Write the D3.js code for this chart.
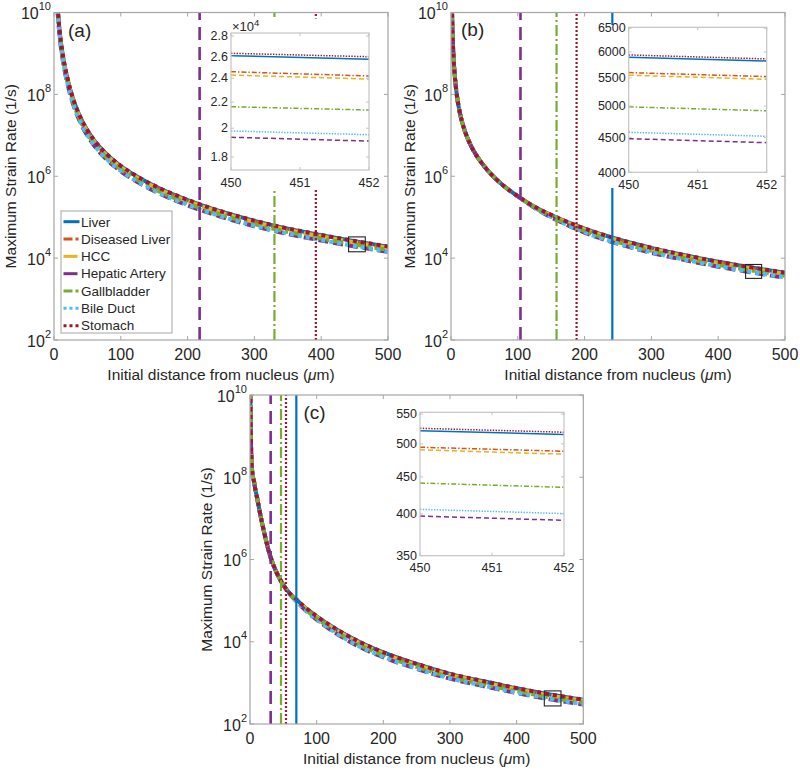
<!DOCTYPE html>
<html><head><meta charset="utf-8">
<script src="https://cdn.jsdelivr.net/npm/d3@7"></script>
<style>
body{margin:0;background:#fff}
svg{display:block}
text{font-family:"Liberation Sans", Arial, Helvetica, sans-serif; fill:#262626}
</style>
</head><body>
<svg id="chart" width="800" height="770"></svg>
<script>
// ---------------- DATA ----------------
const seriesNames = ["Liver","Diseased Liver","HCC","Hepatic Artery","Gallbladder","Bile Duct","Stomach"];
const xTicks = [0,100,200,300,400,500];
const yTicks = [1e2,1e4,1e6,1e8,1e10];
const yTickExp = ["2","4","6","8","10"];
const insetXTicks = [450,451,452];
const insetX = [450,452];

// Panel (a): initial distance (um) and log10(max strain rate) per series
const distA = [4,5,6,8,10,13,16,20,25,30,40,50,60,80,100,130,160,200,250,300,350,400,450,500];
const liverA    = [10.55,10.25,10.0,9.62,9.32,8.98,8.70,8.40,8.08,7.82,7.42,7.12,6.88,6.52,6.25,5.94,5.69,5.42,5.14,4.91,4.72,4.56,4.415,4.28];
const diseasedA = [10.525,10.225,9.975,9.595,9.295,8.955,8.675,8.375,8.055,7.795,7.395,7.095,6.855,6.495,6.225,5.915,5.665,5.395,5.115,4.885,4.695,4.535,4.39,4.255];
const hccA      = [10.52,10.22,9.97,9.59,9.29,8.95,8.67,8.37,8.05,7.79,7.39,7.09,6.85,6.49,6.22,5.91,5.66,5.39,5.11,4.88,4.69,4.53,4.385,4.25];
const hepaticA  = [10.42,10.12,9.87,9.49,9.19,8.85,8.57,8.27,7.95,7.69,7.29,6.99,6.75,6.39,6.12,5.81,5.56,5.29,5.01,4.78,4.59,4.43,4.285,4.15];
const gallA     = [10.47,10.17,9.92,9.54,9.24,8.90,8.62,8.32,8.00,7.74,7.34,7.04,6.80,6.44,6.17,5.86,5.61,5.34,5.06,4.83,4.64,4.48,4.335,4.20];
const bileA     = [10.43,10.13,9.88,9.50,9.20,8.86,8.58,8.28,7.96,7.70,7.30,7.00,6.76,6.40,6.13,5.82,5.57,5.30,5.02,4.79,4.60,4.44,4.295,4.16];
const stomachA  = [10.555,10.255,10.005,9.625,9.325,8.985,8.705,8.405,8.085,7.825,7.425,7.125,6.885,6.525,6.255,5.945,5.695,5.425,5.145,4.915,4.725,4.565,4.42,4.285];
const insetValsA = [[26060,25720],[24580,24200],[24280,23930],[19350,19080],[21630,21370],[19800,19530],[26290,25960]];
const insetYTicksA = [18000,20000,22000,24000,26000,28000];
const insetYLabelsA = ["1.8","2","2.2","2.4","2.6","2.8"];
const insetYDomainA = [17170,28310];
const vlineSeriesA = [3,4,6];
const vlineDistA = [218,330,392];
const zoomBoxXA = [441,466];
const zoomBoxYA = [14300,33000];

// Panel (b)
const distB = [1,1.5,2,3,4,5,6,8,10,13,16,20,25,30,40,50,60,80,100,130,160,200,250,300,350,400,450,500];
const liverB    = [10.56,10.03,9.67,9.18,8.84,8.59,8.39,8.08,7.84,7.57,7.36,7.14,6.92,6.74,6.46,6.24,6.05,5.75,5.51,5.21,4.98,4.72,4.46,4.25,4.07,3.91,3.77,3.64];
const diseasedB = [10.56,10.03,9.67,9.18,8.84,8.59,8.39,8.08,7.84,7.57,7.36,7.14,6.92,6.74,6.46,6.24,6.05,5.75,5.51,5.203,4.968,4.702,4.439,4.228,4.048,3.888,3.748,3.618];
const hccB      = [10.56,10.03,9.67,9.18,8.84,8.59,8.39,8.08,7.84,7.57,7.36,7.14,6.92,6.74,6.46,6.24,6.05,5.75,5.51,5.202,4.966,4.699,4.435,4.224,4.044,3.884,3.744,3.614];
const hepaticB  = [10.56,10.03,9.67,9.18,8.84,8.59,8.39,8.08,7.84,7.57,7.36,7.14,6.92,6.74,6.46,6.24,6.05,5.75,5.51,5.174,4.915,4.625,4.347,4.131,3.951,3.791,3.651,3.521];
const gallB     = [10.56,10.03,9.67,9.18,8.84,8.59,8.39,8.08,7.84,7.57,7.36,7.14,6.92,6.74,6.46,6.24,6.05,5.75,5.51,5.188,4.94,4.662,4.391,4.177,3.997,3.837,3.697,3.567];
const bileB     = [10.56,10.03,9.67,9.18,8.84,8.59,8.39,8.08,7.84,7.57,7.36,7.14,6.92,6.74,6.46,6.24,6.05,5.75,5.51,5.177,4.92,4.632,4.355,4.14,3.96,3.80,3.66,3.53];
const stomachB  = [10.56,10.03,9.67,9.18,8.84,8.59,8.39,8.08,7.84,7.57,7.36,7.14,6.92,6.74,6.46,6.24,6.05,5.75,5.51,5.213,4.983,4.723,4.464,4.254,4.074,3.914,3.774,3.644];
const insetValsB = [[5895,5821],[5597,5522],[5548,5472],[4480,4420],[4987,4921],[4577,4516],[5940,5861]];
const insetYTicksB = [4000,4500,5000,5500,6000,6500];
const insetYLabelsB = ["4000","4500","5000","5500","6000","6500"];
const insetYDomainB = [4000,6520];
const vlineSeriesB = [3,4,6,0];
const vlineDistB = [104,158,188,241.5];
const zoomBoxXB = [441,465];
const zoomBoxYB = [3200,7000];

// Panel (c)
const distC = [0.5,1,1.5,2,3,4,6,8,10,13,16,20,25,30,40,50,60,70,80,100,130,160,200,250,300,350,400,450,500];
const liverC    = [10.1,9.3,8.8,8.5,8.2,8.05,7.9,7.7,7.55,7.3,7.05,6.75,6.4,6.1,5.68,5.38,5.17,5.02,4.87,4.62,4.3,4.03,3.74,3.46,3.22,3.04,2.87,2.717,2.59];
const diseasedC = [10.1,9.3,8.8,8.5,8.2,8.05,7.9,7.7,7.55,7.3,7.05,6.75,6.4,6.1,5.68,5.38,5.165,5.012,4.859,4.604,4.279,4.007,3.717,3.437,3.197,3.017,2.847,2.694,2.567];
const hccC      = [10.1,9.3,8.8,8.5,8.2,8.05,7.9,7.7,7.55,7.3,7.05,6.75,6.4,6.1,5.68,5.38,5.165,5.011,4.857,4.601,4.276,4.003,3.713,3.433,3.193,3.013,2.843,2.69,2.563];
const hepaticC  = [10.1,9.3,8.8,8.5,8.2,8.05,7.9,7.7,7.55,7.3,7.05,6.75,6.4,6.1,5.68,5.38,5.146,4.979,4.811,4.537,4.194,3.912,3.622,3.342,3.102,2.922,2.752,2.599,2.472];
const gallC     = [10.1,9.3,8.8,8.5,8.2,8.05,7.9,7.7,7.55,7.3,7.05,6.75,6.4,6.1,5.68,5.38,5.155,4.994,4.833,4.569,4.234,3.957,3.667,3.387,3.147,2.967,2.797,2.644,2.517];
const bileC     = [10.1,9.3,8.8,8.5,8.2,8.05,7.9,7.7,7.55,7.3,7.05,6.75,6.4,6.1,5.68,5.38,5.148,4.982,4.815,4.544,4.202,3.921,3.631,3.351,3.111,2.931,2.761,2.608,2.481];
const stomachC  = [10.1,9.3,8.8,8.5,8.2,8.05,7.9,7.7,7.55,7.3,7.05,6.75,6.4,6.1,5.68,5.38,5.171,5.021,4.872,4.622,4.303,4.033,3.743,3.463,3.223,3.043,2.873,2.72,2.593];
const insetValsC = [[521.6,515.0],[494.7,488.4],[490.6,483.8],[397.2,391.8],[441.3,435.3],[405.8,400.3],[525.5,518.9]];
const insetYTicksC = [350,400,450,500,550];
const insetYLabelsC = ["350","400","450","500","550"];
const insetYDomainC = [350,553];
const vlineSeriesC = [3,4,6,0];
const vlineDistC = [31,46.5,54,69.5];
const zoomBoxXC = [441.5,466.5];
const zoomBoxYC = [275,638];

// ---------------- STYLES ----------------
const colors = ["#0072BD","#D95319","#EDB120","#7E2F8E","#77AC30","#4DBEEE","#A2142F"];
const mainDash  = [null,"10,4,3,4","10,5","10,5","10,4,3,4","4,4","4,4"];
const legendDash = [null,"9,3,3,20","14,20","14,20","9,3,3,20","3,3","3,3"];
const insetDash = [null,"5,2,1.4,2","5,3","5,3","5,2,1.4,2","1.4,1.4","1.4,1.4"];
const vDash = [null,"10,4,2,4","10,5","13,7","11,3,2,3","2,2","2,2"];
const axisColor = "#a6a6a6";

const svg = d3.select("#chart");

const panels = [
  {id:"a", left:54, right:388, top:12.5, bottom:340,
   inset:{l:231,r:369,t:33,b:170}, white:{x0:205,x1:378,y0:18.5,y1:188},
   label:{x:68,y:36.5,t:"(a)"}, ylabX:15.5,
   dist:distA, series:[liverA,diseasedA,hccA,hepaticA,gallA,bileA,stomachA],
   insetVals:insetValsA, insetTicks:insetYTicksA, insetLabels:insetYLabelsA, insetDomain:insetYDomainA,
   vS:vlineSeriesA, vD:vlineDistA, bx:zoomBoxXA, by:zoomBoxYA, legend:true, exp:"4"},
  {id:"b", left:451, right:785, top:12.5, bottom:340,
   inset:{l:628.7,r:766.7,t:27.3,b:172.3}, white:{x0:596,x1:776,y0:25,y1:188},
   label:{x:461,y:35.5,t:"(b)"}, ylabX:415,
   dist:distB, series:[liverB,diseasedB,hccB,hepaticB,gallB,bileB,stomachB],
   insetVals:insetValsB, insetTicks:insetYTicksB, insetLabels:insetYLabelsB, insetDomain:insetYDomainB,
   vS:vlineSeriesB, vD:vlineDistB, bx:zoomBoxXB, by:zoomBoxYB, legend:false, exp:null},
  {id:"c", left:250, right:583.3, top:395, bottom:724,
   inset:{l:420,r:564,t:412.3,b:555.7}, white:{x0:398,x1:575,y0:405,y1:578},
   label:{x:303.5,y:419,t:"(c)"}, ylabX:211.5,
   dist:distC, series:[liverC,diseasedC,hccC,hepaticC,gallC,bileC,stomachC],
   insetVals:insetValsC, insetTicks:insetYTicksC, insetLabels:insetYLabelsC, insetDomain:insetYDomainC,
   vS:vlineSeriesC, vD:vlineDistC, bx:zoomBoxXC, by:zoomBoxYC, legend:false, exp:null}
];

panels.forEach(p => {
  const g = svg.append("g");
  const x = d3.scaleLinear().domain([0,500]).range([p.left,p.right]);
  const y = d3.scaleLog().domain([1e2,1e10]).range([p.bottom,p.top]);
  const clipId = "clip-" + p.id;
  svg.append("clipPath").attr("id", clipId).append("rect")
    .attr("x", p.left).attr("y", p.top).attr("width", p.right-p.left).attr("height", p.bottom-p.top);

  const plot = g.append("g").attr("clip-path", `url(#${clipId})`);
  const line = d3.line().x(d => x(d[0])).y(d => y(d[1])).curve(d3.curveMonotoneX);

  // main curves
  p.series.forEach((arr, i) => {
    const pts = p.dist.map((r, k) => [r, Math.pow(10, arr[k])]);
    plot.append("path").attr("d", line(pts))
      .attr("fill","none").attr("stroke", colors[i]).attr("stroke-width", 4)
      .attr("stroke-dasharray", mainDash[i]);
  });

  // vertical lines
  p.vS.forEach((si, k) => {
    plot.append("line")
      .attr("x1", x(p.vD[k])).attr("x2", x(p.vD[k]))
      .attr("y1", y(1e2)).attr("y2", y(1e10))
      .attr("stroke", colors[si]).attr("stroke-width", si===3 ? 2.6 : 2.2)
      .attr("stroke-dasharray", vDash[si]);
  });

  // zoom box
  g.append("rect")
    .attr("x", x(p.bx[0])).attr("y", y(p.by[1]))
    .attr("width", x(p.bx[1]) - x(p.bx[0])).attr("height", y(p.by[0]) - y(p.by[1]))
    .attr("fill","none").attr("stroke","#222").attr("stroke-width",1.1);

  // main axes box + ticks
  g.append("rect").attr("x", p.left).attr("y", p.top)
    .attr("width", p.right-p.left).attr("height", p.bottom-p.top)
    .attr("fill","none").attr("stroke", axisColor).attr("stroke-width",1.2);
  xTicks.forEach(t => {
    const tx = x(t);
    g.append("line").attr("x1",tx).attr("x2",tx).attr("y1",p.bottom).attr("y2",p.bottom-4).attr("stroke",axisColor);
    g.append("line").attr("x1",tx).attr("x2",tx).attr("y1",p.top).attr("y2",p.top+4).attr("stroke",axisColor);
    g.append("text").attr("x",tx).attr("y",p.bottom+20).attr("text-anchor","middle")
      .style("font-size","16px").text(t);
  });
  yTicks.forEach((t,i) => {
    const ty = y(t);
    g.append("line").attr("x1",p.left).attr("x2",p.left+4).attr("y1",ty).attr("y2",ty).attr("stroke",axisColor);
    g.append("line").attr("x1",p.right).attr("x2",p.right-4).attr("y1",ty).attr("y2",ty).attr("stroke",axisColor);
    const txt = g.append("text").attr("x", p.left-3).attr("y", ty+6.5).attr("text-anchor","end").style("font-size","16px");
    txt.append("tspan").text("10");
    txt.append("tspan").attr("dy",-9).style("font-size","11px").text(yTickExp[i]);
  });

  // axis labels
  const xl = g.append("text").attr("x",(p.left+p.right)/2).attr("y",p.bottom+39.5)
    .attr("text-anchor","middle").style("font-size","15.5px");
  xl.append("tspan").text("Initial distance from nucleus (");
  xl.append("tspan").style("font-style","italic").text("\u03BC");
  xl.append("tspan").text("m)");
  g.append("text").attr("transform",`translate(${p.ylabX},${(p.top+p.bottom)/2}) rotate(-90)`)
    .attr("text-anchor","middle").style("font-size","15.5px").text("Maximum Strain Rate (1/s)");

  // panel label
  g.append("text").attr("x",p.label.x).attr("y",p.label.y).style("font-size","19px").text(p.label.t);

  // inset
  const w = p.white;
  g.append("rect").attr("x",w.x0).attr("y",w.y0).attr("width",w.x1-w.x0).attr("height",w.y1-w.y0).attr("fill","#fff");
  const I = p.inset;
  const ix = d3.scaleLinear().domain(insetX).range([I.l,I.r]);
  const iy = d3.scaleLog().domain(p.insetDomain).range([I.b,I.t]);
  const iClip = "iclip-" + p.id;
  svg.append("clipPath").attr("id", iClip).append("rect")
    .attr("x", I.l).attr("y", I.t).attr("width", I.r-I.l).attr("height", I.b-I.t);
  const ig = g.append("g").attr("clip-path",`url(#${iClip})`);
  const iline = d3.line().x(d => ix(d[0])).y(d => iy(d[1]));
  p.insetVals.forEach((vals,i) => {
    const pts = insetX.map((xx,k) => [xx, vals[k]]);
    ig.append("path").attr("d", iline(pts)).attr("fill","none")
      .attr("stroke", colors[i]).attr("stroke-width",1.5).attr("stroke-dasharray", insetDash[i]);
  });
  g.append("rect").attr("x",I.l).attr("y",I.t).attr("width",I.r-I.l).attr("height",I.b-I.t)
    .attr("fill","none").attr("stroke","#c4c4c4").attr("stroke-width",1.2);
  insetXTicks.forEach(t => {
    const tx = ix(t);
    g.append("line").attr("x1",tx).attr("x2",tx).attr("y1",I.b).attr("y2",I.b-3).attr("stroke","#c4c4c4");
    g.append("line").attr("x1",tx).attr("x2",tx).attr("y1",I.t).attr("y2",I.t+3).attr("stroke","#c4c4c4");
    g.append("text").attr("x",tx).attr("y",I.b+16.5).attr("text-anchor","middle").style("font-size","12.5px").text(t);
  });
  p.insetTicks.forEach((t,k) => {
    const ty = iy(t);
    g.append("line").attr("x1",I.l).attr("x2",I.l+3).attr("y1",ty).attr("y2",ty).attr("stroke","#c4c4c4");
    g.append("line").attr("x1",I.r).attr("x2",I.r-3).attr("y1",ty).attr("y2",ty).attr("stroke","#c4c4c4");
    g.append("text").attr("x",I.l-3).attr("y",ty).attr("dy","0.34em").attr("text-anchor","end")
      .style("font-size","12.5px").text(p.insetLabels[k]);
  });
  if (p.exp) {
    const et = g.append("text").attr("x",I.l+1).attr("y",I.t-2).style("font-size","13px");
    et.append("tspan").text("\u00D710");
    et.append("tspan").attr("dy",-5).style("font-size","9.5px").text(p.exp);
  }

  // legend
  if (p.legend) {
    const lg = g.append("g");
    lg.append("rect").attr("x",61).attr("y",211).attr("width",111).attr("height",122)
      .attr("fill","#fff").attr("stroke",axisColor).attr("stroke-width",1);
    seriesNames.forEach((n,i) => {
      const ly = 221.7 + i*17.33;
      lg.append("line").attr("x1",63.5).attr("x2",79.5).attr("y1",ly).attr("y2",ly)
        .attr("stroke",colors[i]).attr("stroke-width",3).attr("stroke-dasharray", legendDash[i]);
      lg.append("text").attr("x",81).attr("y",ly+4.8).style("font-size","13.5px").text(n);
    });
  }
});
</script>
</body></html>
